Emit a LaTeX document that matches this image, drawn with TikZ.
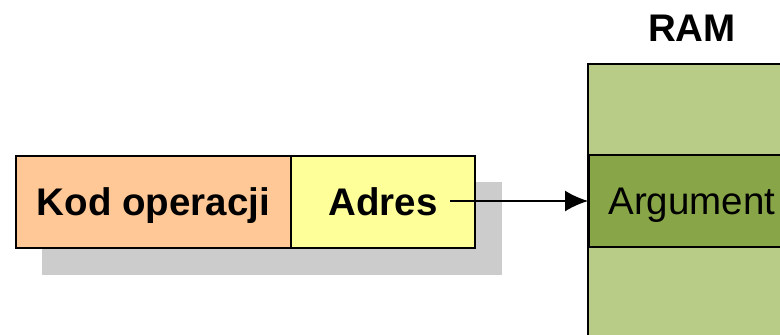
\documentclass[tikz,border=0pt]{standalone}
\usepackage{fontspec}
\setmainfont{Liberation Sans}
\usetikzlibrary{arrows.meta, positioning}

\definecolor{kodfill}{RGB}{255,200,150}
\definecolor{adresfill}{RGB}{255,255,153}
\definecolor{ramfill}{RGB}{184,204,136}
\definecolor{argfill}{RGB}{136,166,72}
\definecolor{shadowfill}{RGB}{204,204,204}

\tikzset{
  field/.style={draw=black, line width=1.8pt, inner sep=0pt, minimum height=92pt,
    text height=27.6pt, text depth=0pt,
    anchor=north west, font=\fontsize{38.5}{46}\selectfont\bfseries},
  cell/.style={draw=black, line width=1.8pt, inner sep=0pt, minimum height=92pt,
    text height=27.6pt, text depth=0pt,
    font=\fontsize{38.5}{46}\selectfont},
}

\begin{document}
\begin{tikzpicture}[x=1pt,y=1pt,yscale=-1,xscale=1]
\useasboundingbox (0,0) rectangle (780,335);

%Shadow of the instruction word
\fill [shadowfill] (42,182) rectangle (502,275);

% Instruction fields
\node [field, fill=kodfill, minimum width=275pt] (kod) at (15,155) {Kod operacji};
\node [field, fill=adresfill, minimum width=184pt] (adres) at (290,155) {Adres};

% RAM column
\draw [draw=black, line width=1.8pt, fill=ramfill] (588,64) rectangle (800,345);
\node [cell, fill=argfill, minimum width=206pt, anchor=west] (arg) at (588,201) {Argument};
\node [font=\fontsize{38.5}{46}\selectfont\bfseries, inner sep=0pt] (ram) at (692,28) {RAM};

% Address points to the argument
\coordinate (adresout) at (450,201);
\draw [line width=1.8pt, -{Latex[length=23pt,width=21pt]}] (adresout) -- (arg.west);

\end{tikzpicture}
\end{document}
